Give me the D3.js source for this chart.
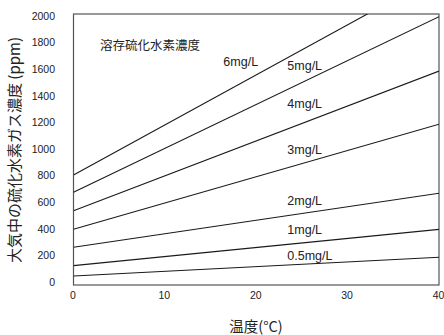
<!DOCTYPE html>
<html>
<head>
<meta charset="utf-8">
<script src="https://cdn.jsdelivr.net/npm/d3@7"></script>
<style>
  html, body { margin: 0; padding: 0; background: #fff; }
  svg { display: block; }
  text { fill: #222; }
</style>
</head>
<body>
<svg id="chart" width="444" height="335"></svg>
<script>
// ---- data ----
const temps = [0, 40];
const seriesNames = ["6mg/L", "5mg/L", "4mg/L", "3mg/L", "2mg/L", "1mg/L", "0.5mg/L"];
const ppmAtStart = [805, 674, 536, 396, 261, 123, 45];
const ppmAtEnd = [2310, 1995, 1586, 1186, 667, 396, 186];
const xTicks = [0, 10, 20, 30, 40];
const yTicks = [0, 200, 400, 600, 800, 1000, 1200, 1400, 1600, 1800, 2000];
const legendTitle = "溶存硫化水素濃度";
const xTitle = "温度(°C)";
const yTitle = "大気中の硫化水素ガス濃度 (ppm)";

// ---- layout ----
const W = 444, H = 335;
const latin = "'Liberation Sans', Arial, sans-serif";
const cjk = "'Noto Sans CJK JP', 'Liberation Sans', sans-serif";
const svg = d3.select("#chart");

const x = d3.scaleLinear().domain([0, 40]).range([73.5, 439]);
const y = d3.scaleLinear().domain([0, 2000]).range([282, 16]);

const frame = { x0: 73.5, x1: 439, y0: 14, y1: 285 };

// label anchor positions (data coords) for each series label
const labelAnchors = [
  [16.4, 1647], [23.4, 1617], [23.4, 1331], [23.4, 985],
  [23.4, 604], [23.4, 383], [23.4, 190]
];

// clip
svg.append("defs").append("clipPath").attr("id", "clip")
  .append("rect")
  .attr("x", frame.x0).attr("y", frame.y0)
  .attr("width", frame.x1 - frame.x0).attr("height", frame.y1 - frame.y0);

// frame
svg.append("rect")
  .attr("x", frame.x0).attr("y", frame.y0)
  .attr("width", frame.x1 - frame.x0).attr("height", frame.y1 - frame.y0)
  .attr("fill", "none").attr("stroke", "#555").attr("stroke-width", 1.2);

// lines
const line = d3.line().x(d => x(d[0])).y(d => y(d[1]));
const series = seriesNames.map((n, i) => ({
  name: n,
  pts: [[temps[0], ppmAtStart[i]], [temps[1], ppmAtEnd[i]]]
}));
svg.append("g").attr("clip-path", "url(#clip)")
  .selectAll("path").data(series).join("path")
  .attr("d", d => line(d.pts))
  .attr("fill", "none").attr("stroke", "#1a1a1a").attr("stroke-width", 1.1);

// series labels
svg.append("g").selectAll("text").data(series).join("text")
  .attr("x", (d, i) => x(labelAnchors[i][0]))
  .attr("y", (d, i) => y(labelAnchors[i][1]))
  .attr("dominant-baseline", "middle")
  .style("font-family", latin).style("font-size", "12.5px")
  .text(d => d.name);

// legend title
svg.append("text")
  .attr("x", 100).attr("y", 47)
  .attr("dominant-baseline", "middle")
  .style("font-family", cjk).style("font-size", "12.5px")
  .text(legendTitle);

// y ticks
const yAxis = d3.axisLeft(y).tickValues(yTicks).tickFormat(d3.format("d"))
  .tickSize(0).tickPadding(0);
const gy = svg.append("g").attr("transform", "translate(55,0)").call(yAxis);
gy.select(".domain").remove();
gy.selectAll("text")
  .style("font-family", latin).style("font-size", "10.5px")
  .style("fill", "#222");

// x ticks
const xAxis = d3.axisBottom(x).tickValues(xTicks).tickFormat(d3.format("d"))
  .tickSize(0).tickPadding(0);
const gx = svg.append("g").attr("transform", "translate(-1,292)").call(xAxis);
gx.select(".domain").remove();
gx.selectAll("text")
  .style("font-family", latin).style("font-size", "10.5px")
  .style("fill", "#222");

// axis titles
svg.append("text")
  .attr("x", 256).attr("y", 328)
  .attr("text-anchor", "middle").attr("dominant-baseline", "middle")
  .style("font-family", cjk).style("font-size", "14.5px")
  .text(xTitle);

svg.append("text")
  .attr("transform", "translate(16,150) rotate(-90)")
  .attr("text-anchor", "middle").attr("dominant-baseline", "middle")
  .style("font-family", cjk).style("font-size", "15px")
  .text(yTitle);
</script>
</body>
</html>
